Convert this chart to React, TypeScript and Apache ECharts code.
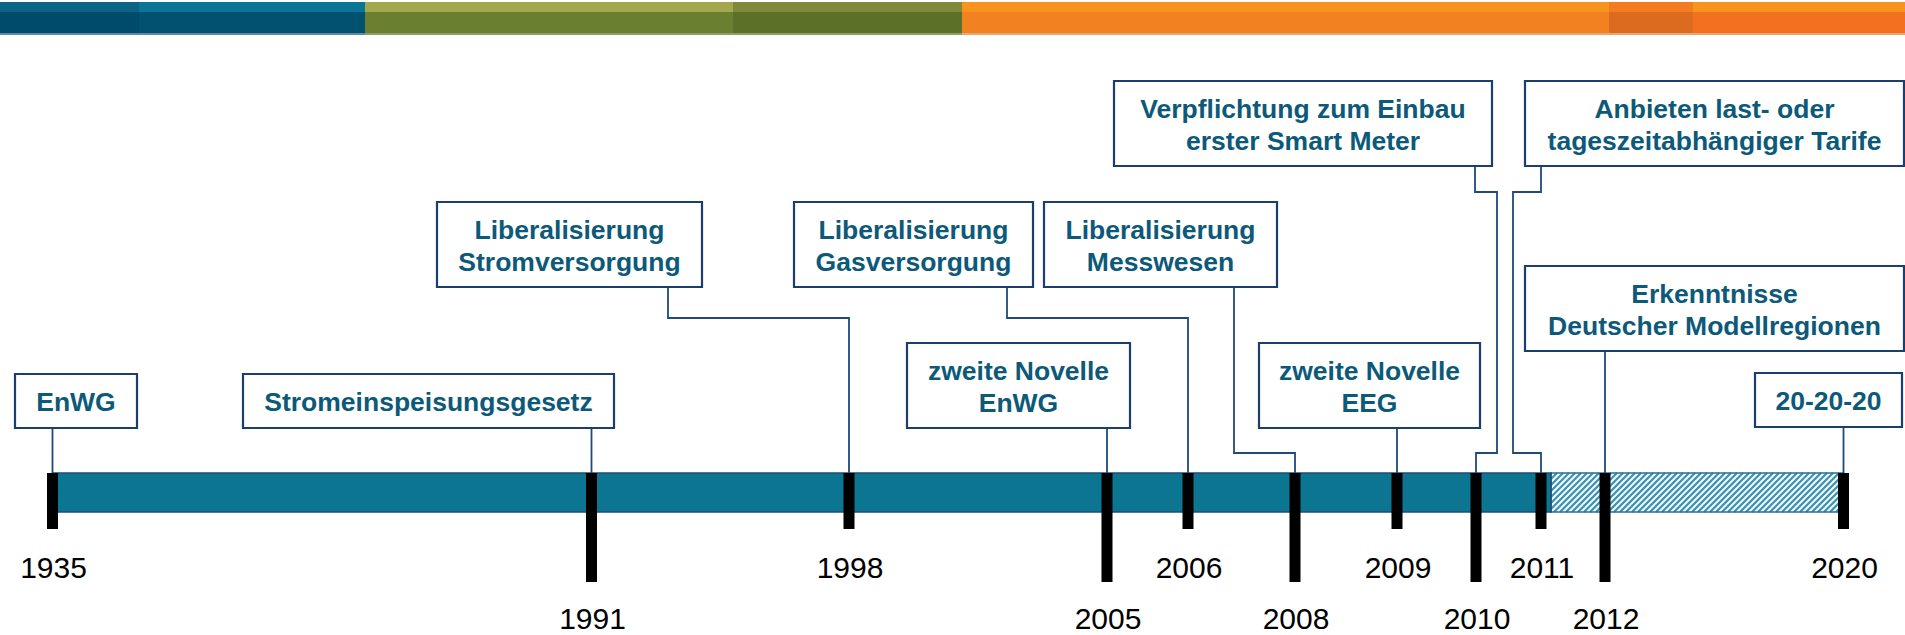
import React, { useEffect, useRef } from "react";
import * as echarts from "echarts";

// ---------- data ----------
const years = [1935, 1991, 1998, 2005, 2006, 2008, 2009, 2010, 2011, 2012, 2020];
// position of each year on the (non-linear) time line (timeline units)
const yearPositions = [52.5, 591.5, 849, 1107, 1188, 1295, 1397, 1476, 1541, 1605, 1843.5];
const realisedUntil = 2011; // solid part of the bar
const plannedUntil = 2020; // hatched part of the bar

const eventTexts = [
  "EnWG",
  "Stromeinspeisungsgesetz",
  "Liberalisierung\nStromversorgung",
  "Liberalisierung\nGasversorgung",
  "Liberalisierung\nMesswesen",
  "zweite Novelle\nEnWG",
  "zweite Novelle\nEEG",
  "Verpflichtung zum Einbau\nerster Smart Meter",
  "Anbieten last- oder\ntageszeitabhängiger Tarife",
  "Erkenntnisse\nDeutscher Modellregionen",
  "20-20-20",
];
const eventYears = [1935, 1991, 1998, 2006, 2008, 2005, 2009, 2010, 2011, 2012, 2020];

// ---------- layout (pixels) ----------
const W = 1905;
const H = 635;
const BAR_TOP = 473;
const BAR_BOTTOM = 512;
const TICK_W = 11;
const TICK_SHORT = 529;
const TICK_LONG = 582;
const LABEL_SHORT_Y = 567;
const LABEL_LONG_Y = 618;
const SOLID_OVERHANG = 10;

type Box = { x: number; y: number; w: number; h: number; route: number[][] };
const boxes: Box[] = [
  { x: 15, y: 374, w: 122, h: 54, route: [] },
  { x: 243, y: 374, w: 371, h: 54, route: [] },
  { x: 437, y: 202, w: 265, h: 85, route: [[668, 287], [668, 318]] },
  { x: 794, y: 202, w: 239, h: 85, route: [[1007, 287], [1007, 318]] },
  { x: 1044, y: 202, w: 233, h: 85, route: [[1234, 287], [1234, 453]] },
  { x: 907, y: 343, w: 223, h: 85, route: [] },
  { x: 1259, y: 343, w: 221, h: 85, route: [] },
  { x: 1114, y: 81, w: 378, h: 85, route: [[1475, 166], [1475, 192], [1497, 192], [1497, 453]] },
  { x: 1525, y: 81, w: 379, h: 85, route: [[1541, 166], [1541, 192], [1513, 192], [1513, 453]] },
  { x: 1525, y: 266, w: 379, h: 85, route: [] },
  { x: 1755, y: 373, w: 147, h: 54, route: [] },
];

const bannerSegments = [
  { x0: 0, x1: 139, top: "#0b6485", bottom: "#004b6c", edge: "#5d8ca2" },
  { x0: 139, x1: 365, top: "#0a7594", bottom: "#025170", edge: "#5d8ca2" },
  { x0: 365, x1: 733, top: "#a3a84c", bottom: "#6a8030", edge: "#8f9d66" },
  { x0: 733, x1: 962, top: "#80893a", bottom: "#5c7027", edge: "#8f9d66" },
  { x0: 962, x1: 1609, top: "#f7941d", bottom: "#f28221", edge: "#e4a872" },
  { x0: 1609, x1: 1693, top: "#f47c20", bottom: "#dc6a1f", edge: "#e4a872" },
  { x0: 1693, x1: 1905, top: "#f7941d", bottom: "#f37021", edge: "#e4a872" },
];

const FONT = "'Liberation Sans', Arial, Helvetica, sans-serif";
const TEXT_COLOR = "#0c5979";
const BOX_STROKE = "#1b3e6c";
const LINK_COLOR = "#1f4a7c";
const BAR_COLOR = "#0b7592";
const BAR_STROKE = "#1d4d72";
const HATCH_COLOR = "#3a93b3";

const posOf = (year: number) => yearPositions[years.indexOf(year)];

function hatch(L: number, R: number, T: number, B: number, step: number) {
  const out: any[] = [];
  for (let c = L + T; c <= R + B; c += step) {
    const xa = Math.max(L, c - B);
    const xb = Math.min(R, c - T);
    if (xb > xa) {
      out.push({
        type: "line",
        shape: { x1: xa, y1: c - xa, x2: xb, y2: c - xb },
        style: { stroke: HATCH_COLOR, lineWidth: 2.2 },
      });
    }
  }
  return out;
}

export default function App() {
  const ref = useRef<HTMLDivElement>(null);

  useEffect(() => {
    if (!ref.current) return;
    const chart = echarts.init(ref.current, null, { renderer: "svg" });

    const banner: any[] = [];
    bannerSegments.forEach((s) => {
      banner.push({ type: "rect", shape: { x: s.x0, y: 2, width: s.x1 - s.x0, height: 10 }, style: { fill: s.top }, silent: true });
      banner.push({ type: "rect", shape: { x: s.x0, y: 12, width: s.x1 - s.x0, height: 21 }, style: { fill: s.bottom }, silent: true });
      banner.push({ type: "rect", shape: { x: s.x0, y: 33, width: s.x1 - s.x0, height: 2 }, style: { fill: s.edge }, silent: true });
    });

    const option: any = {
      animation: false,
      backgroundColor: "#ffffff",
      grid: { left: 0, right: 0, top: 0, bottom: 0 },
      xAxis: { type: "value", min: 0, max: W, show: false },
      yAxis: { type: "value", min: 0, max: H, inverse: true, show: false },
      graphic: banner,
      series: [
        {
          type: "custom",
          name: "Zeitraum",
          silent: true,
          clip: false,
          z: 2,
          data: [[posOf(1935), posOf(realisedUntil), posOf(plannedUntil)]],
          renderItem: (params: any, api: any) => {
            const a = api.coord([api.value(0), BAR_TOP]);
            const b = api.coord([api.value(1), BAR_BOTTOM]);
            const c = api.coord([api.value(2), BAR_BOTTOM]);
            const solidEnd = b[0] + SOLID_OVERHANG;
            return {
              type: "group",
              children: [
                {
                  type: "rect",
                  shape: { x: solidEnd, y: a[1], width: c[0] - solidEnd, height: b[1] - a[1] },
                  style: { fill: "#f4f9fb", stroke: "none" },
                },
                ...hatch(solidEnd, c[0], a[1], b[1], 6),
                {
                  type: "rect",
                  shape: { x: solidEnd, y: a[1], width: c[0] - solidEnd, height: b[1] - a[1] },
                  style: { fill: "none", stroke: "#2a6d92", lineWidth: 1.5 },
                },
                {
                  type: "rect",
                  shape: { x: a[0], y: a[1], width: solidEnd - a[0], height: b[1] - a[1] },
                  style: { fill: BAR_COLOR, stroke: BAR_STROKE, lineWidth: 1.5 },
                },
              ],
            };
          },
        },
        {
          type: "custom",
          name: "Ereignisse",
          silent: true,
          clip: false,
          z: 3,
          data: eventYears.map((y, i) => [posOf(y), i]),
          renderItem: (params: any, api: any) => {
            const i = api.value(1);
            const bx = boxes[i];
            const tx = api.coord([api.value(0), BAR_TOP])[0];
            const p0 = api.coord([bx.x, bx.y]);
            const p1 = api.coord([bx.x + bx.w, bx.y + bx.h]);
            let pts: number[][];
            if (bx.route.length === 0) {
              pts = [[tx, p1[1]], [tx, BAR_TOP + 3]];
            } else {
              const r = bx.route.map((p) => api.coord(p));
              const last = r[r.length - 1];
              pts = [...r, [tx, last[1]], [tx, BAR_TOP + 3]];
            }
            return {
              type: "group",
              children: [
                { type: "polyline", shape: { points: pts }, style: { stroke: LINK_COLOR, lineWidth: 1.8, fill: "none" } },
                {
                  type: "rect",
                  shape: { x: p0[0], y: p0[1], width: p1[0] - p0[0], height: p1[1] - p0[1] },
                  style: { fill: "#ffffff", stroke: BOX_STROKE, lineWidth: 2.2 },
                },
                {
                  type: "text",
                  style: {
                    text: eventTexts[i],
                    x: (p0[0] + p1[0]) / 2,
                    y: (p0[1] + p1[1]) / 2 + 1,
                    align: "center",
                    verticalAlign: "middle",
                    fontFamily: FONT,
                    fontWeight: "bold",
                    fontSize: 26.5,
                    lineHeight: 32,
                    fill: TEXT_COLOR,
                  },
                },
              ],
            };
          },
        },
        {
          type: "custom",
          name: "Jahre",
          silent: true,
          clip: false,
          z: 4,
          data: years.map((y, i) => [yearPositions[i], i]),
          renderItem: (params: any, api: any) => {
            const i = api.value(1);
            const longTick = i % 2 === 1;
            const top = api.coord([api.value(0), BAR_TOP]);
            const bottom = api.coord([api.value(0), longTick ? TICK_LONG : TICK_SHORT]);
            const ly = api.coord([0, longTick ? LABEL_LONG_Y : LABEL_SHORT_Y])[1];
            return {
              type: "group",
              children: [
                {
                  type: "rect",
                  shape: { x: top[0] - TICK_W / 2, y: top[1], width: TICK_W, height: bottom[1] - top[1] },
                  style: { fill: "#000000" },
                },
                {
                  type: "text",
                  style: {
                    text: String(years[i]),
                    x: top[0] + 1,
                    y: ly,
                    align: "center",
                    verticalAlign: "middle",
                    fontFamily: FONT,
                    fontSize: 30,
                    lineHeight: 30,
                    fill: "#000000",
                  },
                },
              ],
            };
          },
        },
      ],
    };

    chart.setOption(option);
    return () => chart.dispose();
  }, []);

  return (
    <div
      ref={ref}
      style={{ position: "absolute", left: 0, top: 0, width: W, height: H, background: "#ffffff" }}
    />
  );
}
